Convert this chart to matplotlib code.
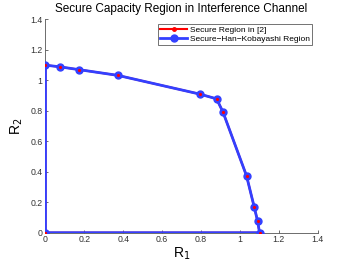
import matplotlib
matplotlib.use("Agg")
import matplotlib.pyplot as plt

plt.rcParams['font.family'] = ['Liberation Sans', 'DejaVu Sans']

r1 = [0, 0, 0.074, 0.170, 0.372, 0.794, 0.880, 0.913, 1.034, 1.073, 1.091, 1.101, 0]
r2 = [0, 1.099, 1.088, 1.070, 1.032, 0.909, 0.878, 0.791, 0.373, 0.171, 0.076, 0, 0]
xticks = [0, 0.2, 0.4, 0.6, 0.8, 1, 1.2, 1.4]
yticks = [0, 0.2, 0.4, 0.6, 0.8, 1, 1.2, 1.4]
ticklabels = ['0', '0.2', '0.4', '0.6', '0.8', '1', '1.2', '1.4']
labels = ['Secure Region in [2]', 'Secure\u2212Han\u2212Kobayashi Region']

fig = plt.figure(figsize=(3.51, 2.64), dpi=100)
ax = fig.add_axes([0.1296, 0.1186, 0.9051 - 0.1296, 0.927 - 0.1186])

h1, = ax.plot(r1, r2, color='red', lw=1.5, marker='.', ms=5, zorder=2, label=labels[0])
h2, = ax.plot(r1, r2, color='#3340ff', lw=2, marker='o', ms=5, mfc='#3340ff', mec='#3340ff', zorder=3, label=labels[1])
ax.plot(r1, r2, ls='none', color='red', marker='.', ms=2.5, zorder=4)

ax.set_xlim(0, 1.4)
ax.set_ylim(0, 1.4)
ax.set_xticks(xticks)
ax.set_yticks(yticks)
ax.set_xticklabels(ticklabels)
ax.set_yticklabels(ticklabels)
ax.tick_params(direction='in', labelsize=6.3, length=2.5, width=0.5, colors='#333333', pad=2)
ax.spines['top'].set_visible(False)
ax.spines['right'].set_visible(False)
for s in ['left', 'bottom']:
    ax.spines[s].set_linewidth(0.6)
    ax.spines[s].set_color('#555555')
ax.patch.set_visible(False)

ax.set_title('Secure Capacity Region in Interference Channel', fontsize=8.5, pad=5)
ax.set_xlabel('R$_1$', fontsize=10, labelpad=0.5)
ax.set_ylabel('R$_2$', fontsize=10, labelpad=4)

leg = fig.legend(handles=[h1, h2], loc='upper right',
                 bbox_to_anchor=(312 / 351, 1 - 24 / 264), bbox_transform=fig.transFigure,
                 fontsize=6.05, frameon=True, fancybox=False, edgecolor='#333333', borderpad=0.25,
                 handlelength=3.2, handletextpad=0.3, labelspacing=0.15, borderaxespad=0.0)
leg.get_frame().set_linewidth(0.6)

fig.savefig('out.png', dpi=100)
